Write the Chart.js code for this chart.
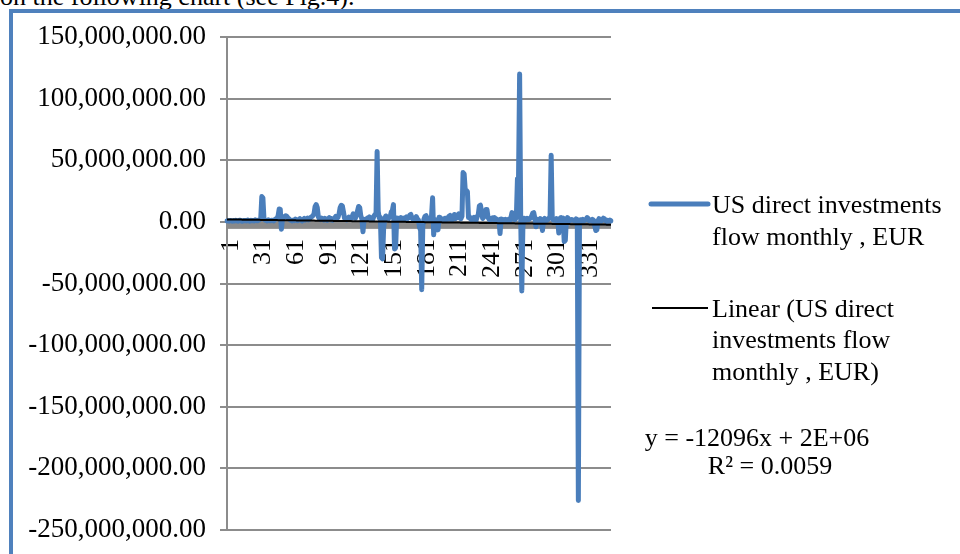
<!DOCTYPE html>
<html>
<head>
<meta charset="utf-8">
<script src="https://cdn.jsdelivr.net/npm/chart.js@4/dist/chart.umd.min.js"></script>
<style>
  html, body { margin: 0; padding: 0; background: #fff; }
  #wrap { position: relative; width: 960px; height: 554px; overflow: hidden; background: #fff; }
  #caption { position: absolute; left: 0; top: -16px; font: 26px "Liberation Serif", serif; line-height: 26px; white-space: nowrap; color: #000; }
  #frame { position: absolute; left: 9px; top: 9px; width: 1000px; height: 600px; border-left: 4px solid #4f81bd; border-top: 4px solid #4f81bd; box-sizing: border-box; }
  #chart { position: absolute; left: 0; top: 0; }
</style>
</head>
<body>
<div id="wrap">
  <div id="caption">on the following chart (see Fig.4).</div>
  <div id="frame"></div>
  <canvas id="chart" width="960" height="554"></canvas>
</div>
<script>
// Monthly flow of US direct investments, in millions of EUR (months 1..354)
const flowMillionEur = [
  0.8, 1.0, 0.6, 1.2, 0.9, 0.5, 1.1, 0.7, 1.3, 0.9,
  0.6, 1.0, 1.4, 0.8, 0.5, 1.2, 0.9, 1.1, 0.7, 1.5,
  1.0, 0.6, 1.3, 0.9, 1.2, 0.8, 1.6, 1.1, 0.9, 1.4,
  1.8, 2.5, 20.5, 19.5, 2.2, 1.5, 1.2, 0.8, 1.6, 1.0,
  0.9, 1.4, 1.1, 0.7, 1.8, 2.4, 3.0, 5.0, 10.5, 10.0,
  -6.0, 2.5, 3.5, 4.5, 5.0, 4.5, 3.2, 2.4, 1.6, 1.2,
  0.8, 1.5, 1.0, 2.2, 1.4, 0.9, 1.8, 2.6, 1.3, 0.7,
  1.9, 2.8, 1.5, 2.2, 3.0, 1.7, 2.5, 3.6, 4.2, 5.0,
  6.5, 12.5, 14.0, 11.5, 4.0, 2.6, 1.8, 3.0, 2.2, 1.5,
  2.8, 1.9, 1.2, 2.4, 3.4, 1.8, 2.6, 1.4, 2.0, 3.2,
  4.5, 2.8, 3.6, 6.5, 11.5, 13.5, 13.0, 8.5, 3.0, 2.2,
  1.6, 2.8, 3.8, 2.0, 2.6, 4.0, 6.5, 4.2, 3.0, 5.5,
  9.0, 12.5, 11.5, 5.0, 2.5, -8.0, 1.8, 2.2, 2.0, 3.0,
  2.2, 4.0, 2.6, 3.4, 2.0, 4.5, 6.0, 6.0, 57.0, 8.5,
  3.0, 3.5, -29.0, -30.0, -5.0, 2.4, 4.8, 3.0, 2.0, 3.6,
  4.2, 8.0, 9.0, 14.0, -22.0, -21.0, 3.2, 1.6, 2.8, 2.0,
  3.5, 2.4, 1.8, 3.0, 2.2, 4.0, 2.6, 3.4, 5.5, 6.0,
  3.2, 2.0, 1.4, 2.8, 4.2, 2.4, 1.5, -4.5, -7.0, -55.0,
  -3.0, 2.0, 4.5, 5.0, 2.4, 1.2, 3.0, 2.0, 4.5, 19.5,
  -10.5, 2.0, -3.0, 1.5, -6.5, 3.8, 3.5, 1.0, 1.8, 2.4,
  2.8, 1.4, 3.0, 2.2, 4.6, 5.2, 2.0, 1.6, 3.4, 6.0,
  2.6, 3.8, 5.5, 6.5, 3.0, 2.5, 4.5, 40.0, 39.0, 26.0,
  25.5, 24.5, 3.5, 4.0, 2.2, 1.6, 2.8, 3.6, 2.0, 1.4,
  4.2, 6.0, 13.0, 13.5, 8.0, 2.8, 4.0, 6.5, 10.0, 10.0,
  3.5, 2.0, 1.5, 2.6, 3.2, 2.0, 3.5, 1.4, 2.2, 1.0,
  1.6, -9.5, 2.4, 0.8, 1.8, 1.2, 2.0, 0.6, 1.5, 2.2,
  1.0, 3.5, 7.5, 6.5, 2.0, 2.0, 4.0, 35.0, 36.0, 120.0,
  3.0, -56.0, -4.0, 3.0, 2.2, 1.4, 2.8, 1.8, 2.4, 3.0,
  4.5, 7.0, 7.5, 3.0, -4.0, 2.2, 1.5, 1.2, 2.6, 1.8,
  -7.0, 1.0, 2.8, 1.6, 1.2, 2.0, 3.0, 4.5, 54.0, 2.5,
  1.5, 2.2, 1.0, 2.6, 1.8, -9.0, 2.8, 3.5, 2.0, 3.0,
  -16.0, -15.0, 2.0, 3.5, 2.4, 1.0, 1.4, 2.0, 1.6, 1.0,
  1.0, 2.4, 2.0, -226.0, -3.0, 1.8, 1.2, 2.0, 0.8, 1.4,
  1.6, 3.5, 2.8, 1.0, 1.6, 0.8, 2.0, 1.2, -3.0, -7.0,
  -6.5, 1.0, 2.6, 1.4, 0.6, 1.8, 3.0, 2.6, 1.0, 0.4,
  1.2, 0.6, 1.4, 0.8
];

// Month numbers used as categories, and the ones printed on the axis
const months = flowMillionEur.map((_, i) => String(i + 1));
const shownMonths = ['1', '31', '61', '91', '121', '151', '181', '211', '241', '271', '301', '331'];

// Value axis ticks
const yTicks = [150e6, 100e6, 50e6, 0, -50e6, -100e6, -150e6, -200e6, -250e6];

// Linear trend as reported: y = -12096x + 2E+06
const trendSlope = -12096;
const trendIntercept = 2e6;
const trendEquation = 'y = -12096x + 2E+06';
const trendR2 = 'R\u00B2 = 0.0059';

const seriesName = ['US direct investments', 'flow monthly , EUR'];
const trendName = ['Linear (US direct', 'investments flow', 'monthly , EUR)'];

const flowEur = flowMillionEur.map(v => v * 1e6);
const trendEur = months.map(m => trendIntercept + trendSlope * Number(m));

const FONT = '"Liberation Serif", "Times New Roman", serif';
const GRID = '#8c8c8c';
const BLUE = '#4a7ebb';

// Thick grey category axis line, drawn just under the zero level
const categoryAxisBand = {
  id: 'categoryAxisBand',
  beforeDatasetsDraw(chart) {
    const { ctx, chartArea } = chart;
    const y0 = chart.scales.y.getPixelForValue(0);
    ctx.save();
    ctx.fillStyle = '#8a8a8a';
    ctx.fillRect(chartArea.left, y0 + 1, chartArea.right - chartArea.left, 6);
    ctx.restore();
  }
};

// Legend and trend equation drawn to the right of the plot
const sideLegend = {
  id: 'sideLegend',
  afterDraw(chart) {
    const ctx = chart.ctx;
    const r = chart.chartArea.right;
    const ds = chart.data.datasets;
    const x0 = r + 40, x1 = r + 97, tx = r + 101;
    ctx.save();
    ctx.font = '26px ' + FONT;
    ctx.fillStyle = '#000';
    ctx.textBaseline = 'alphabetic';
    ctx.textAlign = 'left';
    ctx.lineCap = 'round';
    // series entry
    ctx.strokeStyle = ds[1].borderColor;
    ctx.lineWidth = ds[1].borderWidth;
    ctx.beginPath(); ctx.moveTo(x0, 204); ctx.lineTo(x1, 204); ctx.stroke();
    seriesName.forEach((t, i) => ctx.fillText(t, tx, 213 + i * 31.5));
    // trend entry
    ctx.lineCap = 'butt';
    ctx.strokeStyle = ds[0].borderColor;
    ctx.lineWidth = ds[0].borderWidth;
    ctx.beginPath(); ctx.moveTo(x0 + 1, 308); ctx.lineTo(x1, 308); ctx.stroke();
    trendName.forEach((t, i) => ctx.fillText(t, tx, 316.5 + i * 31.5));
    // equation
    ctx.textAlign = 'center';
    ctx.fillText(trendEquation, r + 146, 446);
    ctx.fillText(trendR2, r + 159, 474);
    ctx.restore();
  }
};

new Chart(document.getElementById('chart'), {
  type: 'line',
  data: {
    labels: months,
    datasets: [
      {
        label: 'Linear (US direct investments flow monthly , EUR)',
        data: trendEur,
        borderColor: '#000',
        borderWidth: 2,
        pointRadius: 0,
        fill: false
      },
      {
        label: 'US direct investments flow monthly , EUR',
        data: flowEur,
        borderColor: BLUE,
        borderWidth: 5,
        borderCapStyle: 'round',
        borderJoinStyle: 'round',
        pointRadius: 0,
        tension: 0,
        fill: false
      }
    ]
  },
  options: {
    responsive: false,
    animation: false,
    events: [],
    layout: { padding: { top: 37, right: 349, bottom: 24, left: 0 } },
    plugins: { legend: { display: false }, tooltip: { enabled: false } },
    scales: {
      x: {
        type: 'category',
        position: { y: 0 },
        offset: false,
        grid: { display: false, drawTicks: false },
        border: { display: false },
        ticks: {
          autoSkip: false,
          minRotation: 90,
          maxRotation: 90,
          padding: 17,
          labelOffset: 4,
          color: '#000',
          font: { family: FONT, size: 26 },
          callback: (v, i) => shownMonths.includes(months[i]) ? months[i] : ''
        }
      },
      y: {
        min: -250e6,
        max: 150e6,
        afterBuildTicks: s => { s.ticks = yTicks.map(v => ({ value: v })); },
        afterFit: s => { s.width = 227; s.paddingTop = 0; s.paddingBottom = 0; },
        grid: { color: GRID, lineWidth: 2, tickLength: 7 },
        border: { color: GRID, width: 2 },
        ticks: {
          padding: 14,
          color: '#000',
          font: { family: FONT, size: 27 },
          callback: v => Number(v).toLocaleString('en-US', { minimumFractionDigits: 2, maximumFractionDigits: 2 })
        }
      }
    }
  },
  plugins: [categoryAxisBand, sideLegend]
});
</script>
</body>
</html>
